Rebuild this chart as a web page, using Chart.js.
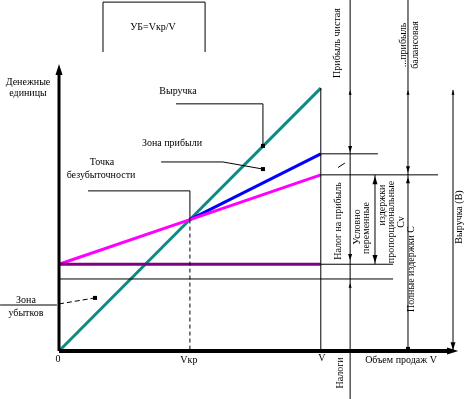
<!DOCTYPE html>
<html><head><meta charset="utf-8">
<script src="https://cdn.jsdelivr.net/npm/chart.js@4/dist/chart.umd.min.js"></script>
<style>html,body{margin:0;padding:0;background:#fff}#w{width:471px;height:399px}</style>
</head><body><div id="w"><canvas id="c"></canvas></div>
<script>
// ---- data (arbitrary units) ----
const volumes      = [0, 50, 100];        // 0, Vкр, V
const revenue      = [0, 50, 100];        // Выручка
const totalCosts   = [33, 50, 67];        // Полные издержки
const costsWithTax = [null, 50, 75];      // издержки + налог
const fixedCosts   = [33, 33, 33];        // Условно-постоянные
const lowerLevel   = 27.4;                // нижний уровень (налоги)
const xLabels = ["0", "Vкр", "V"];

const VKP = volumes[1], V = volumes[2];
const pts = ys => volumes.map((x,i)=>({x, y: ys[i]}));

const FONT = '10px "Liberation Serif"';
const hTexts = [
  ["УБ=Vкр/V",153,27],["Денежные",28,82],["единицы",28,93],["Выручка",178,91],
  ["Зона прибыли",172,143],["Точка",102,162],["безубыточности",101,175],
  ["Зона",26,300],["убытков",26,313],["Объем продаж V",401,360]
];
const vTexts = [
  ["Прибыль чистая",337,43],["...прибыль",403,45],["балансовая",415,45],
  ["Налог на прибыль",338,221],["Условно",357,227],["переменные",366,228],
  ["издержки",382,205],["пропорциональные",391,222],["Cv",401,222],
  ["Полные издержки С",411,269],["Выручка (В)",459,217],["Налоги",340,373]
];

const overlay = {
  id:'overlay',
  afterDatasetsDraw(chart){
    const ctx = chart.ctx, xs = chart.scales.x, ys = chart.scales.y;
    const X = v=>xs.getPixelForValue(v), Y = v=>ys.getPixelForValue(v);
    const line = (p, w=1, dash=[])=>{ctx.save();ctx.strokeStyle='#000';ctx.lineWidth=w;ctx.setLineDash(dash);
      ctx.beginPath();p.forEach((q,i)=>{const a=X(q[0]),b=Y(q[1]); i?ctx.lineTo(a,b):ctx.moveTo(a,b);});ctx.stroke();ctx.restore();};
    const dot = (x,y)=>{ctx.fillStyle='#000';ctx.fillRect(X(x)-2,Y(y)-2,4,4);};
    const arrow = (x,y,dir,s=4)=>{ // dir: 'u','d','r'
      const a=X(x), b=Y(y); ctx.fillStyle='#000'; ctx.beginPath();
      if(dir==='u'){ctx.moveTo(a,b);ctx.lineTo(a-s/2,b+s*1.6);ctx.lineTo(a+s/2,b+s*1.6);}
      else if(dir==='d'){ctx.moveTo(a,b);ctx.lineTo(a-s/2,b-s*1.6);ctx.lineTo(a+s/2,b-s*1.6);}
      else {ctx.moveTo(a,b);ctx.lineTo(a-s*1.6,b-s/2);ctx.lineTo(a-s*1.6,b+s/2);}
      ctx.closePath(); ctx.fill();};
    const yTop = ys.max, yBot = ys.min;
    const xA = 111.2, xB = 133.3, xC = 150.5, xD = 120.7, xE = 127.6;

    // top box
    line([[16.8,113.7],[16.8,132.7],[55.8,132.7],[55.8,113.7]]);
    // vertical at V
    line([[V,0],[V,revenue[2]]]);
    // dimension verticals
    line([[xA,yTop],[xA,yBot]]);
    line([[xB,yTop],[xB,0]]);
    line([[xC,revenue[2]-0.7],[xC,0]]);
    // horizontals
    line([[V,costsWithTax[2]],[121.8,costsWithTax[2]]]);
    line([[V,totalCosts[2]],[144.8,totalCosts[2]]]);
    line([[V,fixedCosts[2]],[xE,fixedCosts[2]]]);
    line([[0,lowerLevel],[xE,lowerLevel]]);
    // double arrow variable costs
    line([[xD,totalCosts[2]],[xD,fixedCosts[2]]]);
    arrow(xD,totalCosts[2]-0.5,'u',5); arrow(xD,fixedCosts[2]+0.5,'d',5);
    // small arrows
    arrow(xA,99.3,'u',3); arrow(xA,costsWithTax[2]+0.5,'d',4); arrow(xA,fixedCosts[2]+1.5,'d',4); arrow(xA,lowerLevel-1.5,'u',3);
    arrow(xB,99.3,'u',3); arrow(xB,totalCosts[2]+0.8,'d',4); arrow(xB,totalCosts[2]-0.8,'u',4); dot(xB,0.8);
    arrow(xC,99.3,'u',3); arrow(xC,0.3,'d',5);
    line([[106.6,69.8],[109.2,71.5]]);
    // pointers
    line([[44.7,94],[77.9,94],[77.9,78]]); dot(77.9,78);
    line([[39,71.9],[62.6,71.9],[77.9,69.2]]); dot(77.9,69.2);
    line([[11.1,60.9],[VKP,60.9],[VKP,revenue[1]]]);
    line([[VKP,revenue[1]],[VKP,0]],1,[4,3]);
    line([[-22.5,17.5],[-0.8,17.5]]);
    line([[0,17.9],[13.75,20.2]],1,[5,3]); dot(13.75,20.2);
    // axes
    line([[0,0],[0,107]],3);
    arrow(0,109.2,'u',7);
    line([[0,0],[149,0]],4);
    arrow(152.5,0,'r',7);

    // texts
    ctx.save(); ctx.fillStyle='#000'; ctx.font=FONT; ctx.textAlign='center'; ctx.textBaseline='middle';
    hTexts.forEach(t=>ctx.fillText(t[0],t[1],t[2]));
    ctx.fillText(xLabels[0], X(volumes[0])-1, 359);
    ctx.fillText(xLabels[1], X(volumes[1])-1, 360);
    ctx.fillText(xLabels[2], X(volumes[2])+1, 358);
    vTexts.forEach(t=>{ctx.save();ctx.translate(t[1],t[2]);ctx.rotate(-Math.PI/2);ctx.fillText(t[0],0,0);ctx.restore();});
    ctx.restore();
  }
};

new Chart(document.getElementById('c'), {
  type:'line',
  data:{datasets:[
    {label:'Условно-постоянные', data:pts(fixedCosts), borderColor:'#800080', borderWidth:3, pointRadius:0},
    {label:'Полные издержки', data:pts(totalCosts), borderColor:'#ff00ff', borderWidth:3, pointRadius:0},
    {label:'Издержки + налог', data:pts(costsWithTax), borderColor:'#0000ff', borderWidth:3, pointRadius:0},
    {label:'Выручка', data:pts(revenue), borderColor:'#0e8a84', borderWidth:3, pointRadius:0}
  ]},
  options:{
    responsive:true, maintainAspectRatio:false, animation:false,
    layout:{padding:0},
    plugins:{legend:{display:false}, tooltip:{enabled:false}},
    scales:{
      x:{type:'linear', display:false, min:-22.54, max:157.37},
      y:{type:'linear', display:false, min:-18.25, max:133.5}
    }
  },
  plugins:[overlay]
});
</script></body></html>
